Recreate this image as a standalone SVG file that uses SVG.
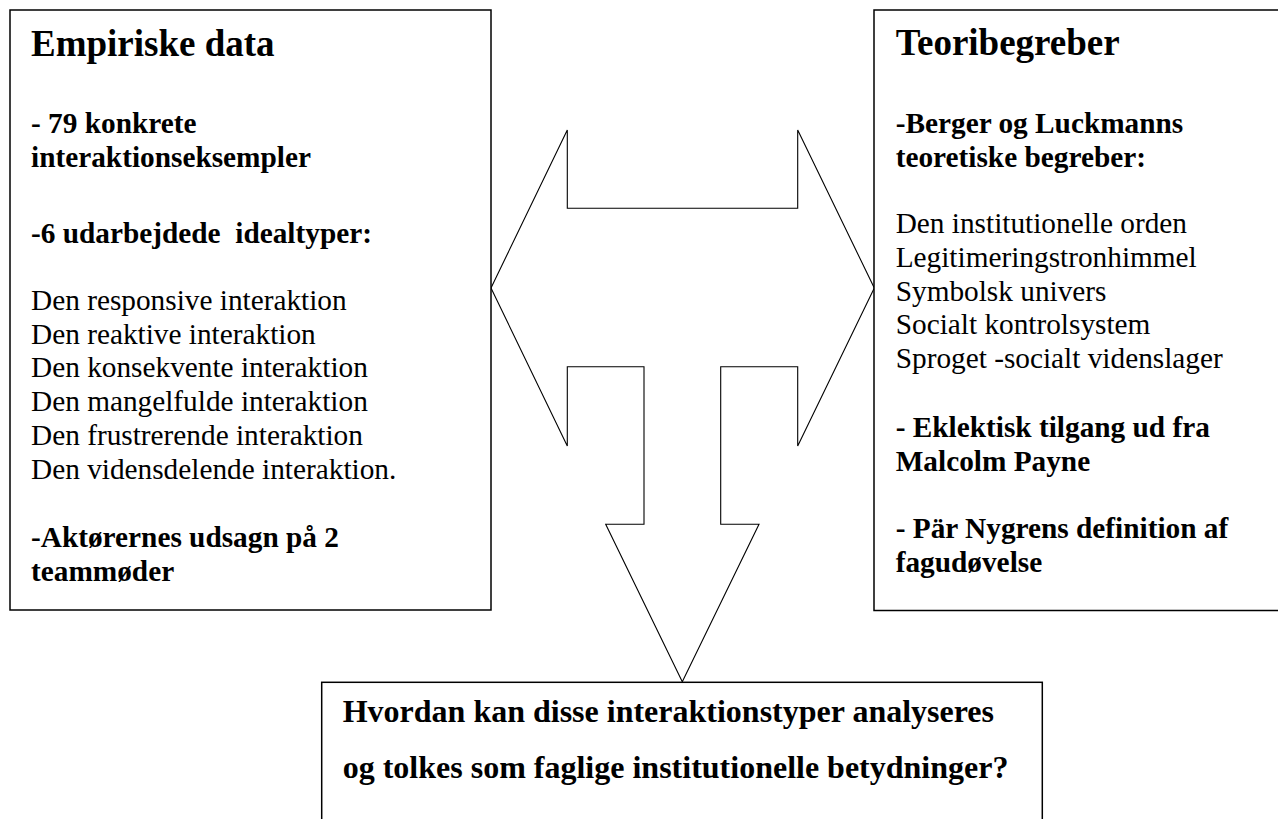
<svg xmlns="http://www.w3.org/2000/svg" width="1278" height="819" viewBox="0 0 1278 819">
<style>
.box{fill:#fff;stroke:#000;stroke-width:1.5}
.arrow{fill:#fff;stroke:#000;stroke-width:1.1;stroke-linejoin:miter}
text{font-family:"Liberation Serif","Times New Roman",serif;fill:#000;white-space:pre}
.t{font-size:37px;font-weight:bold}
.b{font-size:29.3px;font-weight:bold}
.n{font-size:29.3px}
.q{font-size:32px;font-weight:bold}
</style>
<rect width="1278" height="819" fill="#fff"/>
<g id="connectors">
<path class="arrow" d="M491,288 L567.3,130 L567.3,208.3 L797.7,208.3 L797.7,130 L874.3,288 L797.7,446 L797.7,366.7 L720.7,366.7 L720.7,524.3 L759,524.3 L682.3,681.7 L605.7,524.3 L644,524.3 L644,366.7 L567.3,366.7 L567.3,446 Z"/>
</g>
<g id="empiriske-data">
<rect class="box" x="10" y="10" width="481" height="600"/>
<text class="t" x="31" y="56">Empiriske data</text>
<text class="b" x="31" y="133.3">- 79 konkrete</text>
<text class="b" x="31" y="166.5">interaktionseksempler</text>
<text class="b" x="31" y="243.3" xml:space="preserve">-6 udarbejdede  idealtyper:</text>
<text class="n" x="31" y="310">Den responsive interaktion</text>
<text class="n" x="31" y="343.7">Den reaktive interaktion</text>
<text class="n" x="31" y="377.4">Den konsekvente interaktion</text>
<text class="n" x="31" y="411.1">Den mangelfulde interaktion</text>
<text class="n" x="31" y="444.8">Den frustrerende interaktion</text>
<text class="n" x="31" y="478.5">Den vidensdelende interaktion.</text>
<text class="b" x="31" y="546.7">-Aktørernes udsagn på 2</text>
<text class="b" x="31" y="580.5">teammøder</text>
</g>
<g id="teoribegreber">
<rect class="box" x="874" y="10" width="420" height="600.5"/>
<text class="t" x="895.7" y="55">Teoribegreber</text>
<text class="b" x="895.7" y="133.3">-Berger og Luckmanns</text>
<text class="b" x="895.7" y="166.7">teoretiske begreber:</text>
<text class="n" x="895.7" y="233.3">Den institutionelle orden</text>
<text class="n" x="895.7" y="267">Legitimeringstronhimmel</text>
<text class="n" x="895.7" y="300.7">Symbolsk univers</text>
<text class="n" x="895.7" y="334.4">Socialt kontrolsystem</text>
<text class="n" x="895.7" y="368.1">Sproget -socialt videnslager</text>
<text class="b" x="895.7" y="437.3">- Eklektisk tilgang ud fra</text>
<text class="b" x="895.7" y="471.3">Malcolm Payne</text>
<text class="b" x="895.7" y="538.3">- Pär Nygrens definition af</text>
<text class="b" x="895.7" y="571.7">fagudøvelse</text>
</g>
<g id="question">
<rect class="box" x="321.7" y="682.3" width="720.6" height="160"/>
<text class="q" x="342.7" y="721.7">Hvordan kan disse interaktionstyper analyseres</text>
<text class="q" x="342.7" y="777.7">og tolkes som faglige institutionelle betydninger?</text>
</g>
</svg>
